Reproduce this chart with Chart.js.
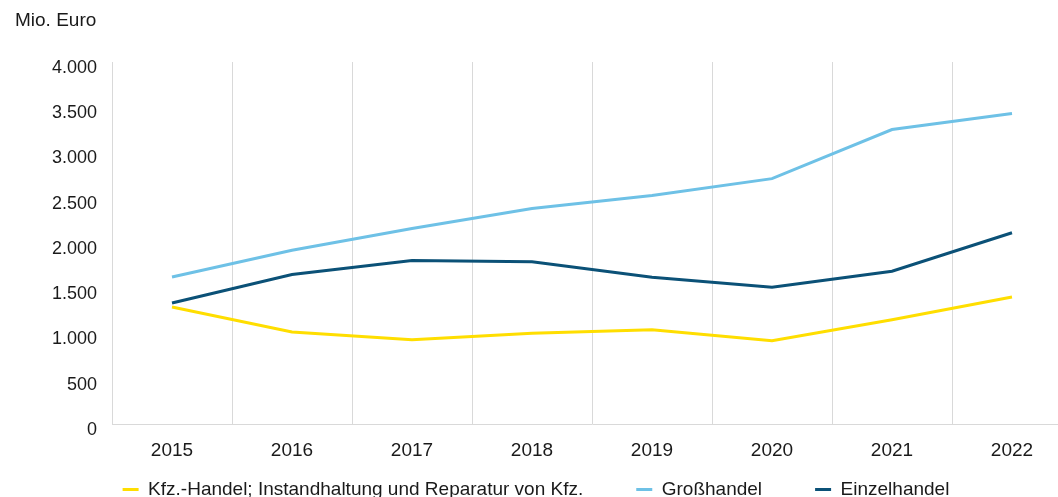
<!DOCTYPE html>
<html>
<head>
<meta charset="utf-8">
<script src="https://cdn.jsdelivr.net/npm/chart.js@4/dist/chart.umd.min.js"></script>
<style>
    html, body { margin: 0; padding: 0; background: #fff; overflow: hidden; }
    #wrap { position: relative; width: 1072px; height: 509px; }
</style>
</head>
<body>
<div id="wrap"><canvas id="myChart"></canvas></div>
<script>
// Data
const years = ['2015', '2016', '2017', '2018', '2019', '2020', '2021', '2022'];
const kfzHandel = [1293, 1016, 931, 1004, 1042, 920, 1152, 1404];
const grosshandel = [1625, 1920, 2160, 2382, 2526, 2711, 3254, 3432];
const einzelhandel = [1337, 1651, 1806, 1792, 1621, 1510, 1688, 2113];
const yTicks = [0, 500, 1000, 1500, 2000, 2500, 3000, 3500, 4000];

const unitLabel = 'Mio. Euro';

function formatDe(v) {
    return String(v).replace(/\B(?=(\d{3})+(?!\d))/g, '.');
}

// draws the unit label top left
const unitPlugin = {
    id: 'unitLabel',
    afterDraw(chart) {
        const ctx = chart.ctx;
        ctx.save();
        ctx.font = '19px "Liberation Sans", Arial, sans-serif';
        ctx.fillStyle = '#1a1a1a';
        ctx.textBaseline = 'middle';
        ctx.textAlign = 'left';
        ctx.fillText(unitLabel, 15, 21);
        ctx.restore();
    }
};

Chart.defaults.font.family = '"Liberation Sans", Arial, sans-serif';
Chart.defaults.font.size = 19;
Chart.defaults.color = '#1a1a1a';

const config = {
    type: 'line',
    data: {
        labels: years,
        datasets: [{
            label: 'Kfz.-Handel; Instandhaltung und Reparatur von Kfz.',
            data: kfzHandel,
            borderColor: '#FFDE00',
            backgroundColor: '#FFDE00',
            borderWidth: 3,
        }, {
            label: 'Großhandel',
            data: grosshandel,
            borderColor: '#6EC1E6',
            backgroundColor: '#6EC1E6',
            borderWidth: 3,
        }, {
            label: 'Einzelhandel',
            data: einzelhandel,
            borderColor: '#0B5177',
            backgroundColor: '#0B5177',
            borderWidth: 3,
        }]
    },
    options: {
        responsive: true,
        maintainAspectRatio: false,
        animation: false,
        layout: { padding: { top: 62, bottom: 0 } },
        elements: {
            line: { tension: 0, borderCapStyle: 'butt' },
            point: { radius: 0, hoverRadius: 0 }
        },
        plugins: {
            tooltip: { enabled: false },
            title: { display: false },
            legend: {
                position: 'bottom',
                labels: {
                    usePointStyle: true,
                    pointStyle: 'line',
                    pointStyleWidth: 16,
                    boxHeight: 19,
                    padding: 53,
                    color: '#1a1a1a',
                    font: { size: 19 }
                }
            }
        },
        scales: {
            x: {
                offset: true,
                afterFit(scale) {
                    // keep the axis box thin so the legend sits close, and let labels draw below it
                    scale.height = 3;
                    scale._computeLabelArea = () => undefined;
                },
                grid: { display: true, offset: true, color: '#D9D9D9', lineWidth: 1, drawTicks: false },
                border: { display: true, color: '#D9D9D9' },
                ticks: { padding: 15, font: { size: 19 } }
            },
            y: {
                min: 0,
                max: 4000,
                afterFit(scale) { scale.width = 112; },
                afterBuildTicks(scale) { scale.ticks = yTicks.map(v => ({ value: v })); },
                grid: { display: false, drawTicks: false },
                border: { display: false },
                ticks: { padding: 15, labelOffset: 6, font: { size: 18 }, callback: v => formatDe(v) }
            }
        }
    },
    plugins: [unitPlugin]
};

var myChart = new Chart(document.getElementById('myChart'), config);
</script>
</body>
</html>
